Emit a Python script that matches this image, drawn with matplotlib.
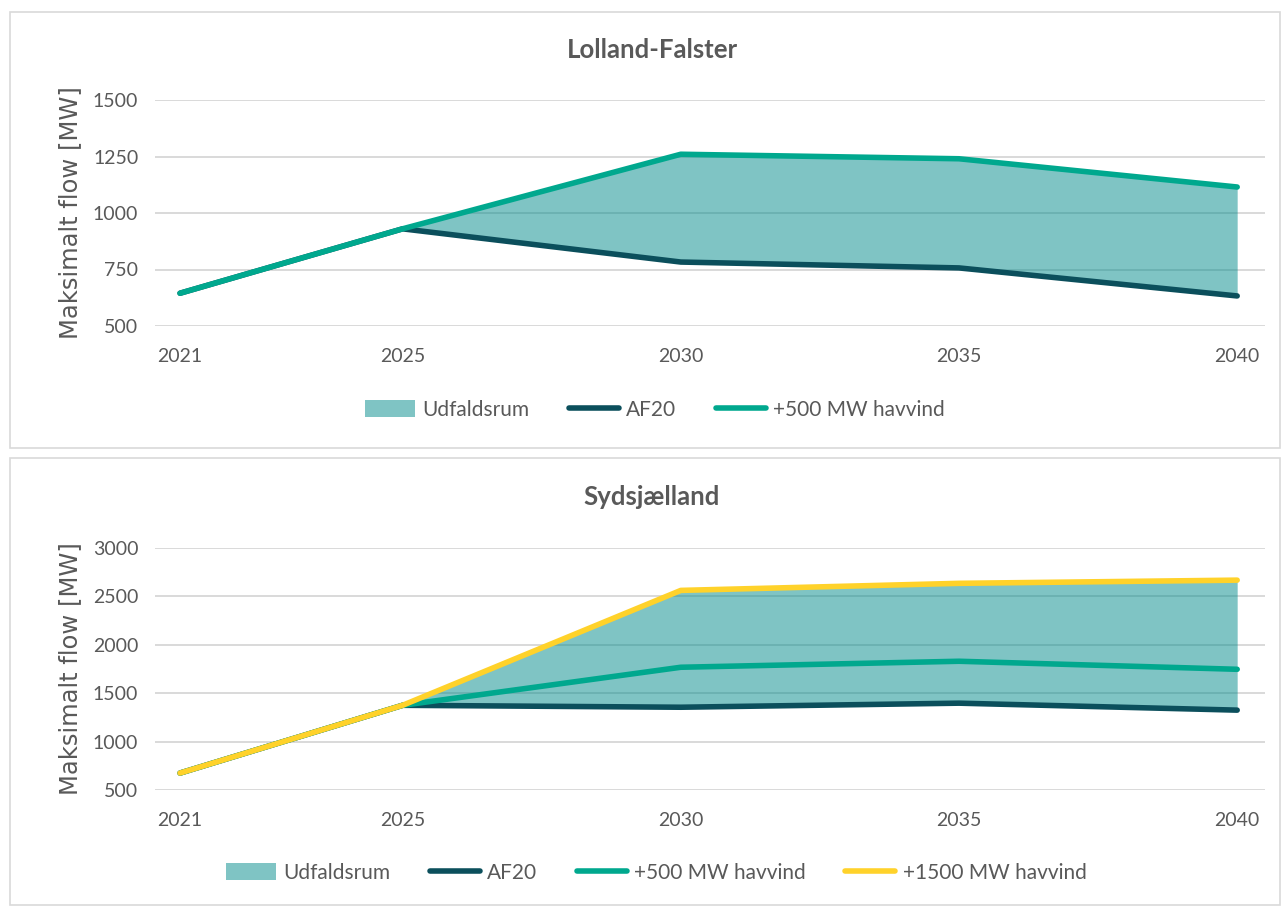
import numpy as np
import matplotlib.pyplot as plt
from matplotlib.patches import Rectangle, Patch
from matplotlib.lines import Line2D

# Data
years = [2021, 2025, 2030, 2035, 2040]

lf_af20 = [645, 930, 783, 757, 633]
lf_500 = [645, 930, 1260, 1240, 1115]

sj_af20 = [675, 1375, 1355, 1397, 1325]
sj_500 = [675, 1375, 1768, 1830, 1747]
sj_1500 = [675, 1375, 2562, 2635, 2668]

lf_yticks = [500, 750, 1000, 1250, 1500]
sj_yticks = [500, 1000, 1500, 2000, 2500, 3000]

c_af20 = '#0B4F5C'
c_500 = '#00A88E'
c_1500 = '#FFD22A'
c_fill = '#008B8B'
c_text = '#595959'
c_grid = '#D9D9D9'

plt.rcParams['font.family'] = ['Lato', 'DejaVu Sans']

W, H = 1282, 906
fig = plt.figure(figsize=(W / 100, H / 100), dpi=100)


def px_axes(x0, y0, x1, y1):
    # axes from pixel box (top-left origin)
    return fig.add_axes([x0 / W, 1 - y1 / H, (x1 - x0) / W, (y1 - y0) / H])


def panel(x0, y0, x1, y1):
    fig.patches.append(Rectangle((x0 / W, 1 - y1 / H), (x1 - x0) / W, (y1 - y0) / H,
                                 transform=fig.transFigure, fill=False,
                                 edgecolor=c_grid, linewidth=1.2))


def style(ax, yticks):
    ax.set_xlim(2020.55, 2040.5)
    ax.set_ylim(yticks[0], yticks[-1])
    ax.set_yticks(yticks)
    ax.set_xticks(years)
    ax.grid(axis='y', color=c_grid, linewidth=1.4)
    ax.set_axisbelow(True)
    for s in ax.spines.values():
        s.set_visible(False)
    ax.tick_params(length=0, labelsize=14, colors=c_text, pad=12)
    ax.tick_params(axis='x', pad=16)
    ax.set_ylabel('Maksimalt flow [MW]', family='DejaVu Sans', fontsize=17.5,
                  color=c_text, labelpad=8)


def legend_handles(labels, colors):
    h = [Patch(facecolor=c_fill, alpha=0.5, edgecolor='none')]
    for c in colors:
        h.append(Line2D([], [], color=c, lw=4, solid_capstyle='round'))
    return h, ['Udfaldsrum'] + labels


leg_kw = dict(loc='center', frameon=False, fontsize=15, labelcolor=c_text,
              handlelength=2.4, handleheight=0.9, columnspacing=1.9,
              handletextpad=0.35)

# Lolland-Falster
panel(10, 12, 1280, 448)
ax1 = px_axes(155, 100, 1265, 326)
style(ax1, lf_yticks)
ax1.fill_between(years, lf_af20, lf_500, color=c_fill, alpha=0.5, linewidth=0)
ax1.plot(years, lf_af20, color=c_af20, lw=4, solid_capstyle='round', solid_joinstyle='round')
ax1.plot(years, lf_500, color=c_500, lw=4, solid_capstyle='round', solid_joinstyle='round')
fig.text(652 / W, 1 - 50 / H, 'Lolland-Falster', ha='center', va='center',
         fontsize=18.5, fontweight='bold', color=c_text)
h, l = legend_handles(['AF20', '+500 MW havvind'], [c_af20, c_500])
fig.legend(h, l, bbox_to_anchor=(655 / W, 1 - 410 / H), ncol=3, **leg_kw)

# Sydsjælland
panel(10, 458, 1280, 905)
ax2 = px_axes(155, 548, 1265, 790)
style(ax2, sj_yticks)
ax2.fill_between(years, sj_af20, sj_1500, color=c_fill, alpha=0.5, linewidth=0)
ax2.plot(years, sj_af20, color=c_af20, lw=4, solid_capstyle='round', solid_joinstyle='round')
ax2.plot(years, sj_500, color=c_500, lw=4, solid_capstyle='round', solid_joinstyle='round')
ax2.plot(years, sj_1500, color=c_1500, lw=4, solid_capstyle='round', solid_joinstyle='round')
fig.text(652 / W, 1 - 497 / H, 'Sydsjælland', ha='center', va='center',
         fontsize=18.5, fontweight='bold', color=c_text)
h, l = legend_handles(['AF20', '+500 MW havvind', '+1500 MW havvind'],
                      [c_af20, c_500, c_1500])
fig.legend(h, l, bbox_to_anchor=(656 / W, 1 - 873 / H), ncol=4, **leg_kw)

fig.savefig('out.png', dpi=100)
